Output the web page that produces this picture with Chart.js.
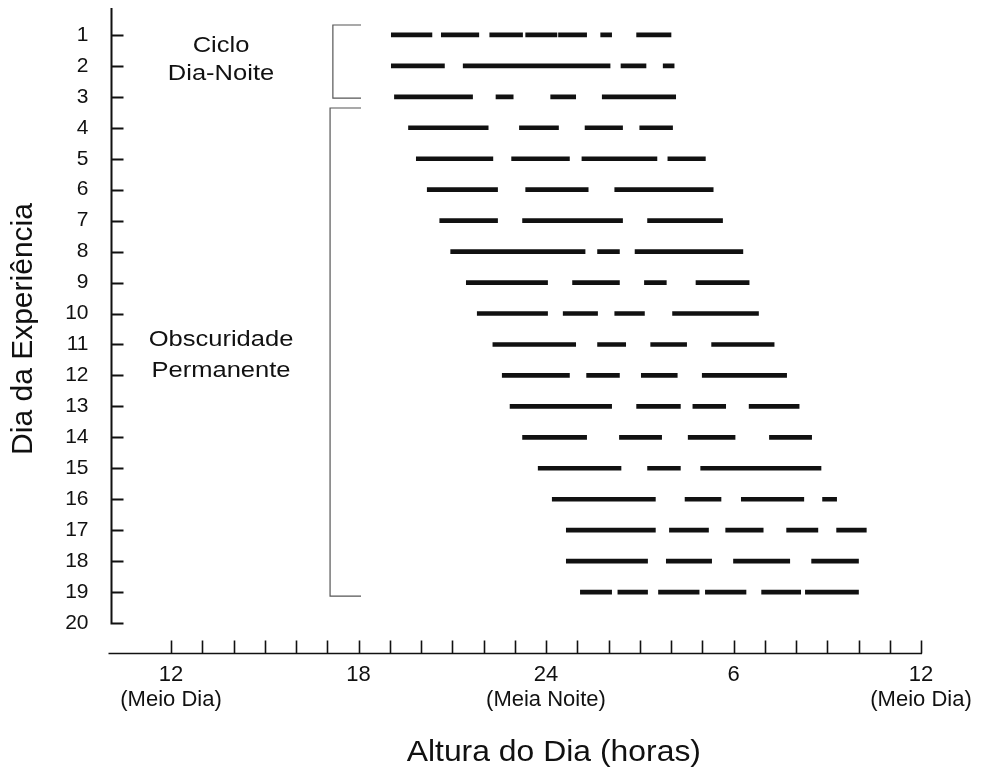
<!DOCTYPE html>
<html>
<head>
<meta charset="utf-8">
<title>Dia da Experiência</title>
<script src="https://cdn.jsdelivr.net/npm/chart.js@4.4.0/dist/chart.umd.min.js"></script>
<style>
  html, body { margin: 0; padding: 0; background: #fff; }
  #wrap { width: 993px; height: 774px; position: relative; }
</style>
</head>
<body>
<div id="wrap"><canvas id="actogram"></canvas></div>
<script>
// activity periods per day, [start, end] in hours (24 = midnight, 30 = 6h, 36 = noon next day)
const day01 = [[19.05, 20.35], [20.65, 21.85], [22.2, 23.25], [23.35, 24.35], [24.4, 25.3], [25.75, 26.1], [26.9, 28.0]];
const day02 = [[19.05, 20.75], [21.35, 26.05], [26.4, 27.2], [27.75, 28.1]];
const day03 = [[19.15, 21.65], [22.4, 22.95], [24.15, 24.95], [25.8, 28.15]];
const day04 = [[19.6, 22.15], [23.15, 24.4], [25.25, 26.45], [27.0, 28.05]];
const day05 = [[19.85, 22.3], [22.9, 24.75], [25.15, 27.55], [27.9, 29.1]];
const day06 = [[20.2, 22.45], [23.35, 25.35], [26.2, 29.35]];
const day07 = [[20.6, 22.45], [23.25, 26.45], [27.25, 29.65]];
const day08 = [[20.95, 25.25], [25.65, 26.35], [26.85, 30.3]];
const day09 = [[21.45, 24.05], [24.85, 26.35], [27.15, 27.85], [28.8, 30.5]];
const day10 = [[21.8, 24.05], [24.55, 25.65], [26.2, 27.15], [28.05, 30.8]];
const day11 = [[22.3, 24.95], [25.65, 26.55], [27.35, 28.5], [29.3, 31.3]];
const day12 = [[22.6, 24.75], [25.3, 26.35], [27.05, 28.2], [29.0, 31.7]];
const day13 = [[22.85, 26.1], [26.9, 28.3], [28.7, 29.75], [30.5, 32.1]];
const day14 = [[23.25, 25.3], [26.35, 27.7], [28.55, 30.05], [31.15, 32.5]];
const day15 = [[23.75, 26.4], [27.25, 28.3], [28.95, 32.8]];
const day16 = [[24.2, 27.5], [28.45, 29.6], [30.25, 32.25], [32.85, 33.3]];
const day17 = [[24.65, 27.5], [27.95, 29.2], [29.75, 30.95], [31.7, 32.7], [33.3, 34.25]];
const day18 = [[24.65, 27.25], [27.85, 29.3], [30.0, 31.8], [32.5, 34.0]];
const day19 = [[25.1, 26.1], [26.3, 27.25], [27.6, 28.9], [29.1, 30.4], [30.9, 32.15], [32.3, 34.0]];

const activityByDay = [day01, day02, day03, day04, day05, day06, day07, day08, day09, day10,
                       day11, day12, day13, day14, day15, day16, day17, day18, day19];

// axis ticks / labels
const dayTicks = [1, 2, 3, 4, 5, 6, 7, 8, 9, 10, 11, 12, 13, 14, 15, 16, 17, 18, 19, 20];
const hourLabelValues = [12, 18, 24, 30, 36];
const hourLabelText = [['12', '(Meio Dia)'], '18', ['24', '(Meia Noite)'], '6', ['12', '(Meio Dia)']];
const xMin = 10, xMax = 36;
const yMin = 0.13, yMax = 21;

// build floating bar data from the arrays above
const bars = [];
activityByDay.forEach((segs, i) => {
  segs.forEach(s => bars.push({ y: i + 1, x: [s[0], s[1]] }));
});

const FONT = '"Liberation Sans", Arial, Helvetica, sans-serif';
const INK = '#111';

function wideText(ctx, str, cx, cy, size, stretch) {
  ctx.save();
  ctx.font = size + 'px ' + FONT;
  ctx.textAlign = 'center';
  ctx.textBaseline = 'middle';
  ctx.translate(cx, cy);
  ctx.scale(stretch, 1);
  ctx.fillText(str, 0, 0);
  ctx.restore();
}

const extras = {
  id: 'extras',
  afterDatasetsDraw(chart) {
    const { ctx } = chart;
    const xs = chart.scales.x, ys = chart.scales.y;
    ctx.save();
    ctx.strokeStyle = INK;
    ctx.fillStyle = INK;
    ctx.lineCap = 'butt';

    // vertical day axis with inward ticks
    const ax = Math.round(xs.getPixelForValue(xMin)) + 2.5;
    ctx.lineWidth = 2;
    ctx.beginPath();
    ctx.moveTo(ax, ys.getPixelForValue(yMin));
    ctx.lineTo(ax, ys.getPixelForValue(20) + 1);
    dayTicks.forEach(d => {
      const py = Math.round(ys.getPixelForValue(d)) + 0.5;
      ctx.moveTo(ax - 1, py);
      ctx.lineTo(ax + 12, py);
    });
    ctx.stroke();

    // horizontal hour axis with upward ticks
    const by = Math.round(ys.getPixelForValue(yMax)) - 0.5;
    ctx.lineWidth = 1.6;
    ctx.beginPath();
    ctx.moveTo(xs.getPixelForValue(xMin), by);
    ctx.lineTo(xs.getPixelForValue(xMax) + 1, by);
    for (let h = 12; h <= xMax; h++) {
      const px = Math.round(xs.getPixelForValue(h)) + 0.5;
      ctx.moveTo(px, by);
      ctx.lineTo(px, by - 13);
    }
    ctx.stroke();

    // brackets
    ctx.strokeStyle = '#555';
    ctx.lineWidth = 1.2;
    const bracket = (hx, d0, d1) => {
      const x0 = xs.getPixelForValue(hx), x1 = xs.getPixelForValue(18.08);
      const y0 = ys.getPixelForValue(d0), y1 = ys.getPixelForValue(d1);
      ctx.beginPath();
      ctx.moveTo(x1, y0); ctx.lineTo(x0, y0); ctx.lineTo(x0, y1); ctx.lineTo(x1, y1);
      ctx.stroke();
    };
    bracket(17.18, 0.68, 3.04);
    bracket(17.09, 3.36, 19.13);

    // annotations
    ctx.fillStyle = INK;
    const ax2 = xs.getPixelForValue(13.6);
    wideText(ctx, 'Ciclo', ax2, ys.getPixelForValue(1.36), 22, 1.16);
    wideText(ctx, 'Dia-Noite', ax2, ys.getPixelForValue(2.25), 22, 1.16);
    wideText(ctx, 'Obscuridade', ax2, ys.getPixelForValue(10.85), 22, 1.16);
    wideText(ctx, 'Permanente', ax2, ys.getPixelForValue(11.85), 22, 1.16);

    // axis titles
    wideText(ctx, 'Altura do Dia (horas)', xs.getPixelForValue(24.25), 753, 29, 1.1);
    ctx.save();
    ctx.font = '30px ' + FONT;
    ctx.textAlign = 'center';
    ctx.textBaseline = 'alphabetic';
    ctx.translate(32, ys.getPixelForValue(10.5));
    ctx.rotate(-Math.PI / 2);
    ctx.fillText('Dia da Experiência', 0, 0);
    ctx.restore();

    ctx.restore();
  }
};

Chart.defaults.font.family = FONT;
Chart.defaults.color = INK;

new Chart(document.getElementById('actogram'), {
  type: 'bar',
  data: {
    datasets: [{
      label: 'Atividade',
      data: bars,
      backgroundColor: INK,
      borderWidth: 0,
      barThickness: 4,
      grouped: false
    }]
  },
  options: {
    indexAxis: 'y',
    responsive: true,
    maintainAspectRatio: false,
    animation: false,
    layout: { padding: { top: 8, right: 72, left: 0, bottom: 0 } },
    plugins: { legend: { display: false }, tooltip: { enabled: false } },
    scales: {
      x: {
        type: 'linear',
        min: xMin,
        max: xMax,
        offset: false,
        grid: { display: false, drawTicks: false },
        border: { display: false },
        afterBuildTicks: (scale) => { scale.ticks = hourLabelValues.map(v => ({ value: v })); },
        afterFit: (scale) => {
          scale.height = 120;
          scale.paddingLeft = 0;
          scale.paddingRight = 0;
        },
        ticks: {
          autoSkip: false,
          maxRotation: 0,
          padding: 8,
          font: { size: 22, lineHeight: 1.15 },
          callback: (v) => {
            const i = hourLabelValues.indexOf(v);
            return i >= 0 ? hourLabelText[i] : '';
          }
        }
      },
      y: {
        type: 'linear',
        reverse: true,
        min: yMin,
        max: yMax,
        offset: false,
        grid: { display: false, drawTicks: false },
        border: { display: false },
        afterBuildTicks: (scale) => { scale.ticks = dayTicks.map(v => ({ value: v })); },
        afterFit: (scale) => {
          scale.width = 108.5;
          scale.paddingTop = 0;
          scale.paddingBottom = 0;
        },
        ticks: {
          autoSkip: false,
          padding: 20,
          font: { size: 21 },
          callback: (v) => String(v)
        }
      }
    }
  },
  plugins: [extras]
});
</script>
</body>
</html>
